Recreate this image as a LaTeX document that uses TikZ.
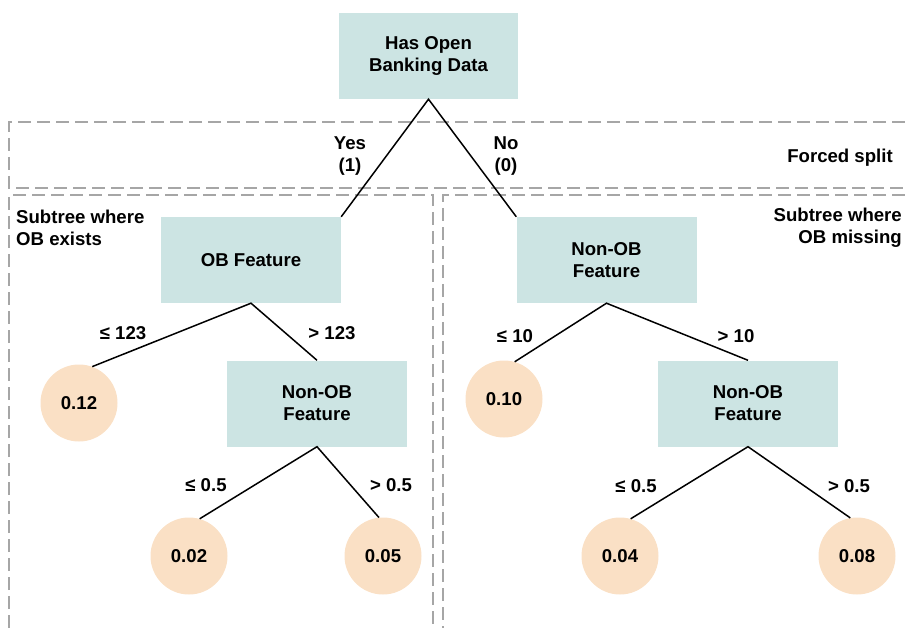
\documentclass[tikz,border=0pt]{standalone}
\usepackage{fontspec}
\setmainfont{Liberation Sans}
\usetikzlibrary{shapes,arrows,positioning,calc}

\begin{document}
\begin{tikzpicture}[x=1pt, y=-1pt,
        txt/.style={font=\fontsize{18.6}{22}\selectfont\bfseries, align=center, inner sep=0pt},
        splitbox/.style={txt, rectangle, fill=obteal, minimum width=180pt, minimum height=86pt},
        leafnode/.style={txt, circle, fill=obpeach, minimum size=77pt},
        branch/.style={line width=1.5pt, black},
        region/.style={line width=1.8pt, obgray, dash pattern=on 13pt off 6pt}]
        \definecolor{obteal}{RGB}{204,228,227}
        \definecolor{obpeach}{RGB}{250,224,197}
        \definecolor{obgray}{RGB}{166,166,166}

        \useasboundingbox (0,0) rectangle (905,628);

        % Dashed regions
        \draw[region] (905,122) -- (9,122) -- (9,188) -- (905,188);
        \draw[region] (9,628) -- (9,195) -- (433,195) -- (433,628);
        \draw[region] (905,195) -- (443,195) -- (443,628);

        % Region captions
        \node[txt] (forced) at (840,158) {Forced split};
        \node[txt, align=left, anchor=west] (obyes) at (16,228) {Subtree where\\OB exists};
        \node[txt, align=right, anchor=east] (obno) at (902,228) {Subtree where\\OB missing};

        % Top - forced split on OB data
        \node[splitbox, minimum width=179pt] (root) at (428.5,56) {Has Open\\Banking Data};

        % Left subtree
        \node[splitbox] (obfeat) at (251,260) {OB Feature};
        \node[leafnode] (l12) at (79,403) {0.12};
        \node[splitbox] (nonobl) at (317,403.5) {Non-OB\\Feature};
        \node[leafnode] (l02) at (189,556) {0.02};
        \node[leafnode] (l05) at (383,556) {0.05};

        % Right subtree
        \node[splitbox] (nonobr) at (606.5,260) {Non-OB\\Feature};
        \node[leafnode] (l10) at (504,399) {0.10};
        \node[splitbox] (nonobrr) at (748,403.5) {Non-OB\\Feature};
        \node[leafnode] (l04) at (620,556) {0.04};
        \node[leafnode] (l08) at (857,556) {0.08};

        % Branch labels
        \node[txt] (yes) at (350,156) {Yes\\(1)};
        \node[txt] (no) at (506,156) {No\\(0)};
        \node[txt] (le123) at (123,333) {≤ 123};
        \node[txt] (gt123) at (332,333) {> 123};
        \node[txt] (lehalfl) at (206,485) {≤ 0.5};
        \node[txt] (gthalfl) at (391,485) {> 0.5};
        \node[txt] (le10) at (515,336) {≤ 10};
        \node[txt] (gt10) at (736,336) {> 10};
        \node[txt] (lehalfr) at (636,486) {≤ 0.5};
        \node[txt] (gthalfr) at (849,486) {> 0.5};

        % Connecting lines
        \draw[branch] (obfeat.north east) -- (root.south) -- (nonobr.north west);
        \draw[branch] (l12.70) -- (obfeat.south) -- (nonobl.north);
        \draw[branch] (l02.74) -- (nonobl.south) -- (l05.96);
        \draw[branch] (l10.74) -- (nonobr.south) -- (nonobrr.north);
        \draw[branch] (l04.74) -- (nonobrr.south) -- (l08.100);
    \end{tikzpicture}
\end{document}
